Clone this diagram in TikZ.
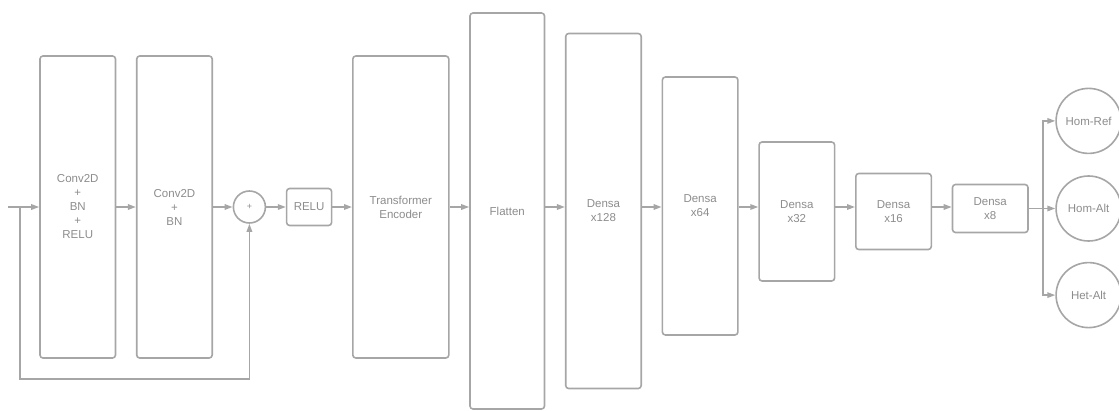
\documentclass[tikz,border=0pt]{standalone}
\usepackage{fontspec}
\setmainfont{Liberation Sans}
\usepackage{xcolor}
\usetikzlibrary{arrows.meta, positioning}
\definecolor{linegray}{HTML}{A6A6A6}
\definecolor{textgray}{HTML}{8C8C8C}

\begin{document}
\begin{tikzpicture}[
    x=1pt, y=-1pt,
    >={Triangle[length=8pt, width=5.5pt]},
    node distance=19.6pt,
    every node/.style={text=textgray, font=\fontsize{11.5}{14}\selectfont},
    layer/.style={draw=linegray, line width=1.6pt, rectangle, rounded corners=3pt, minimum width=75.5pt, align=center},
    adder/.style={draw=linegray, line width=1.6pt, circle, minimum size=32pt, inner sep=0pt, font=\fontsize{9}{10}\selectfont},
    outclass/.style={draw=linegray, line width=1.6pt, circle, minimum size=65pt, inner sep=0pt},
    link/.style={draw=linegray, line width=1.6pt, ->}
]
\useasboundingbox (0,0) rectangle (1119,410);

% Residual block
\coordinate (in) at (8,207);
\node[layer, minimum height=302pt] (conva) at (77.75,207) {Conv2D\\+\\BN\\+\\RELU};
\node[layer, minimum height=302pt, right=of conva] (convb) {Conv2D\\+\\BN};
\node[adder, right=of convb] (add) {+};
\node[layer, minimum width=45pt, minimum height=37pt, right=of add] (relu) {RELU};

\coordinate (skip) at (20,207);
\coordinate (skipend) at (20,379);

\draw[link] (in) -- (conva);
\draw[link] (conva) -- (convb);
\draw[link] (convb) -- (add);
\draw[link] (skip) -- (skipend) -| (add);
\draw[link] (add) -- (relu);

% Transformer + Flatten
\node[layer, minimum width=96pt, minimum height=302pt, right=of relu] (trans) {Transformer\\Encoder};
\node[layer, minimum width=74.5pt, minimum height=396pt, right=of trans, yshift=-4pt] (flat) {Flatten};

\draw[link] (relu) -- (trans);
\draw[link] (trans.east |- in) -- (flat.west |- in);

% Dense layers
\node[layer, minimum height=355pt, right=of flat] (d128) {Densa\\x128};
\node[layer, minimum height=258pt, right=of d128, yshift=5pt] (d64) {Densa\\x64};
\node[layer, minimum height=139pt, right=of d64, yshift=-5.5pt] (d32) {Densa\\x32};
\node[layer, minimum height=76pt, right=of d32] (d16) {Densa\\x16};
\node[layer, minimum height=48pt, right=of d16, yshift=3pt] (d8) {Densa\\x8};

\draw[link] (flat.east |- in) -- (d128.west |- in);
\draw[link] (d128.east |- in) -- (d64.west |- in);
\draw[link] (d64.east |- in) -- (d32.west |- in);
\draw[link] (d32.east |- in) -- (d16.west |- in);
\draw[link] (d16.east |- in) -- (d8.west |- in);

% Outputs
\node[outclass, right=26.5pt of d8] (homalt) {Hom-Alt};
\node[outclass, above=21pt of homalt] (homref) {Hom-Ref};
\node[outclass, below=20pt of homalt] (hetalt) {Het-Alt};
\coordinate[right=14pt of d8.east] (split);

\draw[link] (d8) -- (homalt);
\draw[link] (split) |- (homref);
\draw[link] (split) |- (hetalt);

\end{tikzpicture}
\end{document}
